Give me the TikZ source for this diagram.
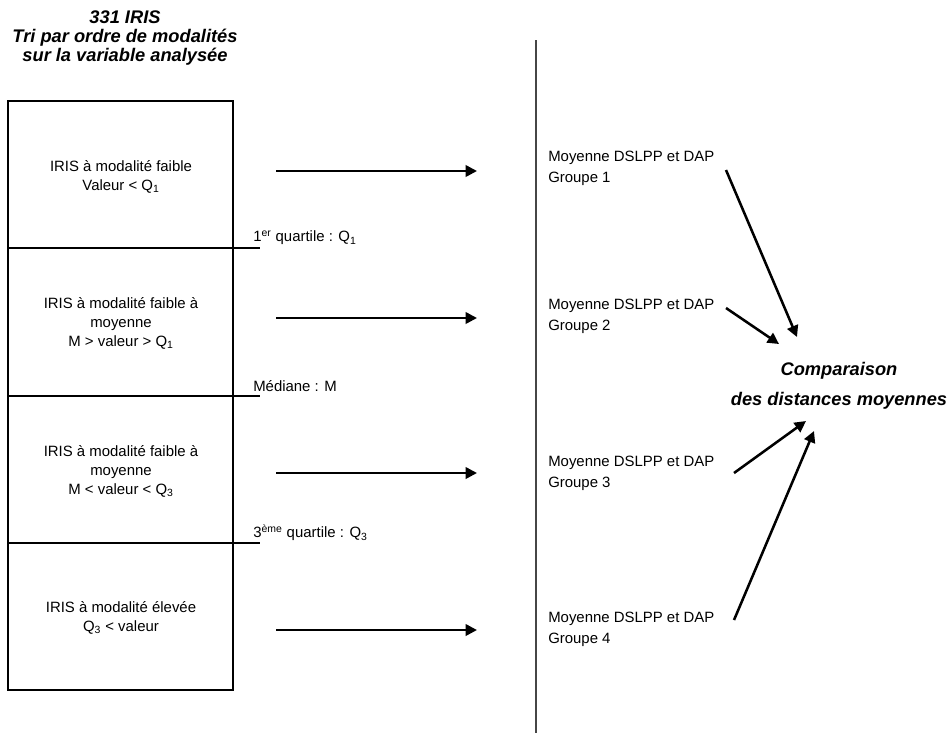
\documentclass[tikz,border=0pt]{standalone}
\usepackage{fontspec}
\setmainfont{Liberation Sans}
\usepackage{tikz}
\usetikzlibrary{arrows.meta}
\definecolor{inkblack}{RGB}{0,0,0}
\definecolor{rulegray}{RGB}{70,70,70}
\tikzset{
  title-text/.style={font=\fontsize{13.7}{14.3}\selectfont\bfseries\itshape, align=center, inner sep=0pt},
  row-text/.style={font=\fontsize{11.2}{14.2}\selectfont, align=center, inner sep=0pt},
  group-text/.style={font=\fontsize{11.2}{15.5}\selectfont, align=left, inner sep=0pt, anchor=west},
  cut-text/.style={font=\fontsize{11.2}{13}\selectfont, inner sep=0pt, anchor=west},
  frame-line/.style={draw=inkblack, line width=0.8pt},
  flow-arrow/.style={-{Triangle[length=8.5pt, width=8.5pt]}, line width=1.9pt, draw=inkblack},
  divider-line/.style={draw=rulegray, line width=1pt}
}

\begin{document}
\begin{tikzpicture}[x=0.75pt, y=-0.75pt]
\useasboundingbox (0,0) rectangle (952,733);
% heading
\node[title-text] (heading) at (125,38) {331 IRIS\\Tri par ordre de modalités\\sur la variable analysée};
% column of IRIS, cut by the quartiles
\draw[frame-line] (8,101) rectangle (233,690);
\foreach \cy/\lbl/\i in {248/{1\textsuperscript{er} quartile : Q\textsubscript{1}}/1,
  396/{Médiane : M}/2,
  543/{3\textsuperscript{ème} quartile : Q\textsubscript{3}}/3}{
  \draw[frame-line] (8,\cy) -- (260,\cy);
  \node[cut-text] (cut\i) at (253,\cy-10) {\lbl};
}
% separation
\draw[divider-line] (536,40) -- (536,733);
% rows
\foreach \ty/\txt/\ay/\gy/\i in {%
  177/{IRIS à modalité faible\\Valeur < Q\textsubscript{1}}/171/168.5/1,%
  323/{IRIS à modalité faible à\\moyenne\\M > valeur > Q\textsubscript{1}}/318/316.5/2,%
  471/{IRIS à modalité faible à\\moyenne\\M < valeur < Q\textsubscript{3}}/473/473.5/3,%
  618/{IRIS à modalité élevée\\Q\textsubscript{3} < valeur}/630/629/4%
}{
  \node[row-text] (row\i) at (121,\ty) {\txt};
  \coordinate (h\i-a) at (276,\ay);
  \coordinate (h\i-b) at (477,\ay);
  \draw[flow-arrow] (h\i-a) -- (h\i-b);
  \node[group-text] (grp\i) at (548,\gy) {Moyenne DSLPP et DAP\\Groupe \i};
}
% comparison
\node[title-text, font=\fontsize{13.7}{22.5}\selectfont\bfseries\itshape] (comp) at (839,386) {Comparaison\\des distances moyennes};
\foreach \sx/\sy/\ex/\ey/\i in {726/170/797/337/1, 726/308/779/344/2, 734/473/806/421/3, 734/620/814/431/4}{
  \coordinate (s\i) at (\sx,\sy);
  \coordinate (e\i) at (\ex,\ey);
  \draw[flow-arrow] (s\i) -- (e\i);
}
\end{tikzpicture}
\end{document}
